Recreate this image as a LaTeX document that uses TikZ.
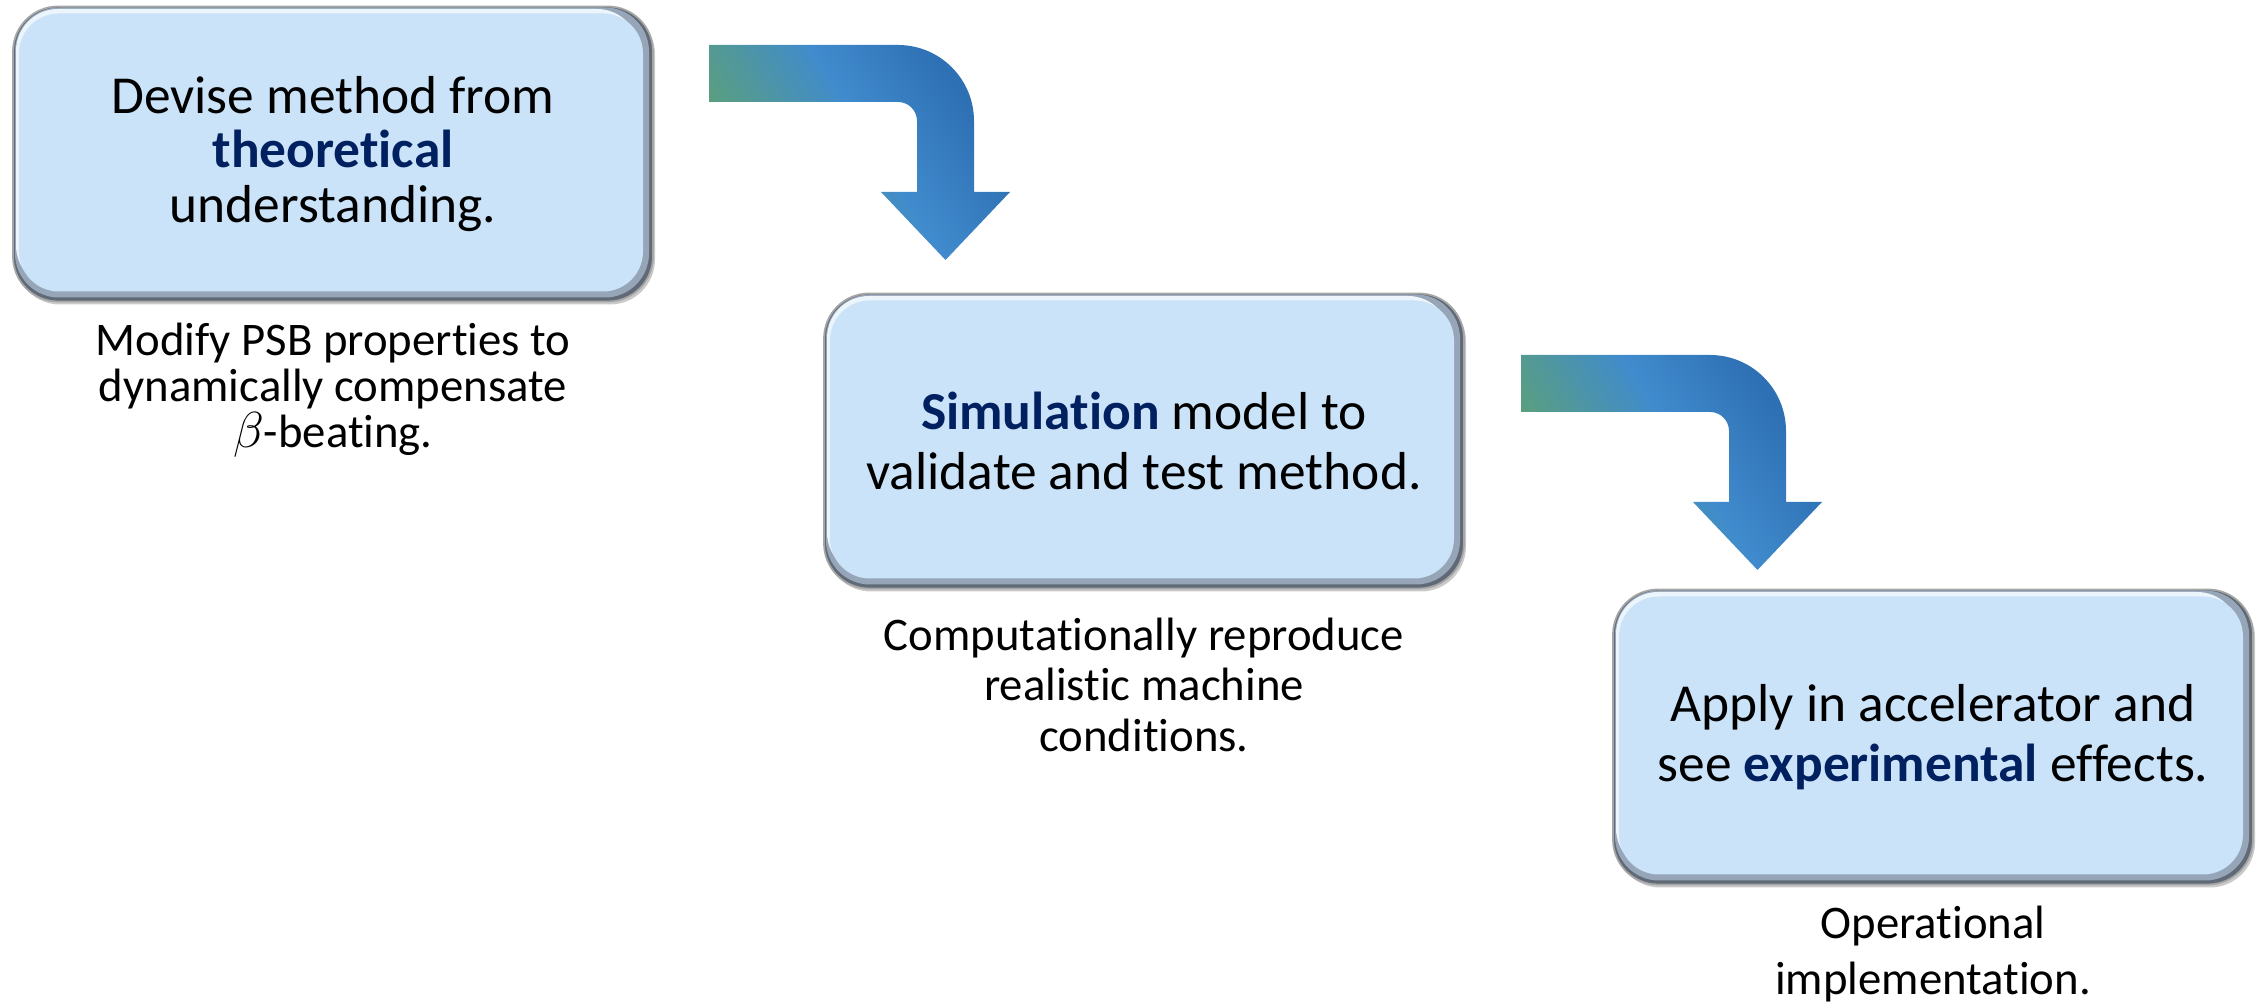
\documentclass[tikz,border=0pt]{standalone}
\usepackage{fontspec}
\setmainfont{Carlito}[Ligatures=NoCommon]
\usetikzlibrary{positioning,shadows}

\definecolor{boxblue}{RGB}{202,227,249}
\definecolor{rimdark}{RGB}{96,106,118}
\definecolor{rimmid}{RGB}{150,166,184}
\definecolor{rimlight}{RGB}{236,244,252}
\definecolor{keynavy}{RGB}{0,32,96}
\definecolor{arrgreen}{RGB}{92,160,122}
\definecolor{arrmid}{RGB}{64,139,205}
\definecolor{arrdark}{RGB}{46,112,180}

\pgfdeclarehorizontalshading{arrowfade}{100bp}{color(0bp)=(arrgreen); color(30bp)=(arrgreen); color(53bp)=(arrmid); color(72bp)=(arrdark); color(100bp)=(arrdark)}

\newcommand{\keyword}[1]{\textbf{\textcolor{keynavy}{#1}}}

\tikzset{
  stepbox/.style={rounded corners=0.45cm, minimum width=6.4cm, minimum height=2.95cm,
    fill=boxblue, draw=gray!70, line width=0.5pt, align=center,
    font=\fontsize{15.2}{17.2}\selectfont,
    drop shadow={shadow xshift=0.02cm, shadow yshift=-0.03cm, opacity=0.35, fill=black!60},
    path picture={
      \fill[rimdark] (path picture bounding box.south west) rectangle (path picture bounding box.north east);
      \fill[rimmid, rounded corners=0.44cm]
        ([shift={(0.02,0.04)}]path picture bounding box.south west)
        rectangle ([shift={(-0.04,-0.01)}]path picture bounding box.north east);
      \fill[rimlight, rounded corners=0.42cm]
        ([shift={(0.03,0.14)}]path picture bounding box.south west)
        rectangle ([shift={(-0.14,-0.025)}]path picture bounding box.north east);
      \fill[boxblue, rounded corners=0.4cm]
        ([shift={(0.06,0.1)}]path picture bounding box.south west)
        rectangle ([shift={(-0.1,-0.07)}]path picture bounding box.north east);
    }},
  subtext/.style={align=center, inner sep=1pt, font=\fontsize{13.3}{13.2}\selectfont},
  bentarrow/.pic={
    \shade[shading=arrowfade, shading angle=32]
      (0,0) -- (1.89,0) arc[start angle=90, end angle=0, radius=0.76]
      -- (2.65,-1.47) -- (3.01,-1.47) -- (2.365,-2.15) -- (1.72,-1.47)
      -- (2.08,-1.47) -- (2.08,-0.76) arc[start angle=0, end angle=90, radius=0.19]
      -- (0,-0.57) -- cycle;
  }
}

\begin{document}
\begin{tikzpicture}
\useasboundingbox (0,0) rectangle (22.59,10.05);

% steps
\node[stepbox, font=\fontsize{15.2}{15.4}\selectfont] (theory) at (3.33,8.51) {Devise method from\\ \keyword{theoretical}\\ understanding.};
\node[stepbox] (simul) at (11.44,5.64) {\keyword{Simulation} model to\\ validate and test method.};
\node[stepbox] (exper) at (19.33,2.68) {Apply in accelerator and\\ see \keyword{experimental} effects.};

% notes under the steps
\node[subtext, below=0.16cm of theory] (theorynote) {Modify PSB properties to\\ dynamically compensate\\ $\beta$-beating.};
\node[subtext, font=\fontsize{13.3}{14.4}\selectfont, below=0.24cm of simul] (simulnote) {Computationally reproduce\\ realistic machine\\ conditions.};
\node[subtext, font=\fontsize{13.3}{16}\selectfont, below=0.16cm of exper] (expernote) {Operational\\ implementation.};

% bent arrows
\pic at (7.09,9.60) {bentarrow};
\pic at (15.21,6.50) {bentarrow};
\end{tikzpicture}
\end{document}
